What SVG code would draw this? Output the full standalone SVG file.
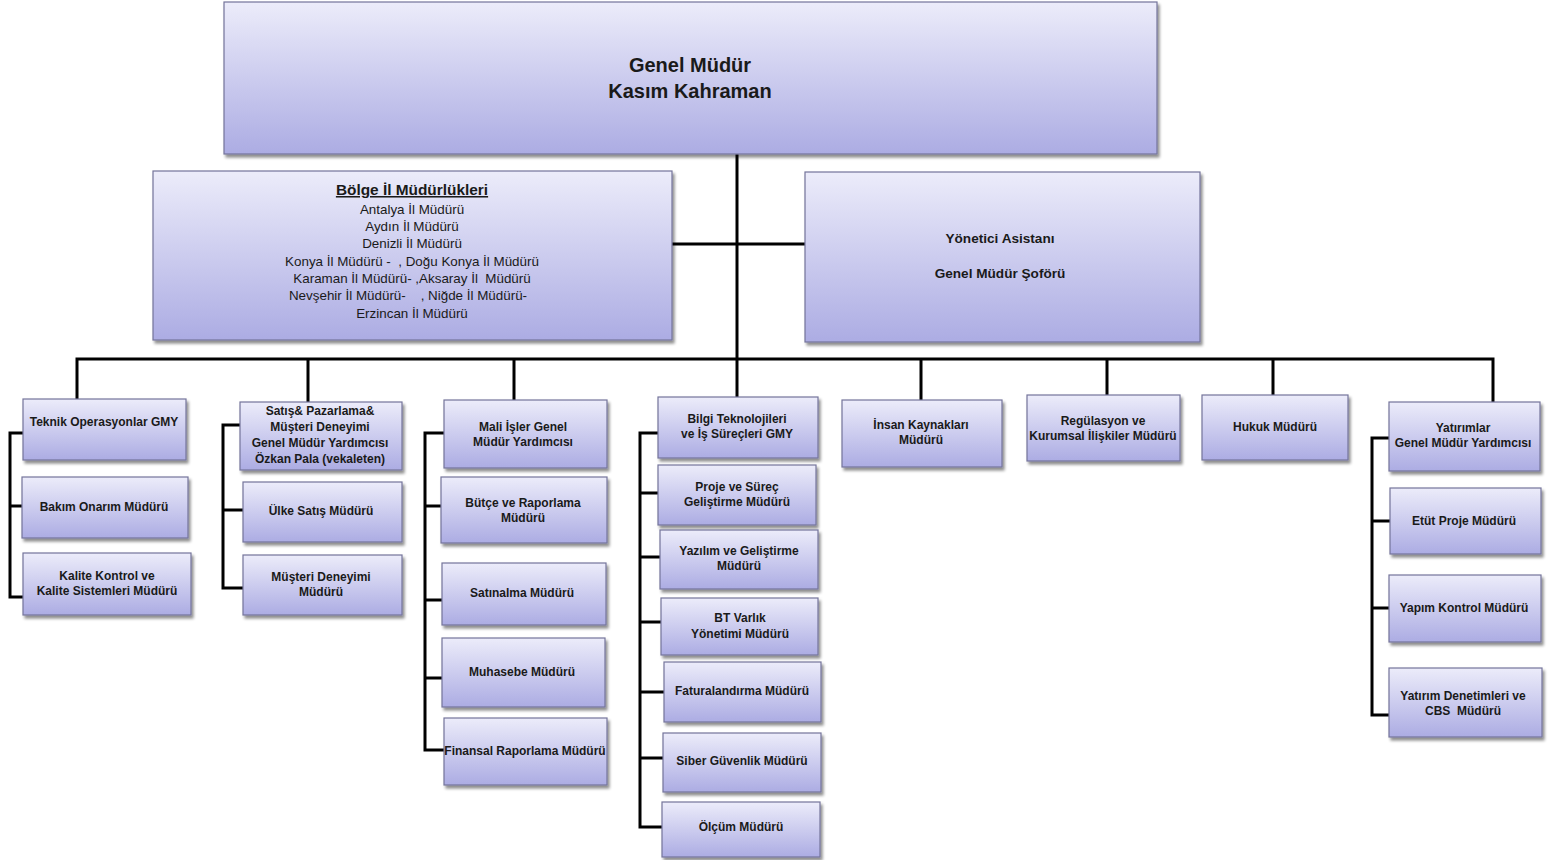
<svg xmlns="http://www.w3.org/2000/svg" width="1558" height="860" viewBox="0 0 1558 860">
<defs>
<linearGradient id="g" x1="0" y1="0" x2="0" y2="1">
<stop offset="0" stop-color="#ececfa"/>
<stop offset="1" stop-color="#acace3"/>
</linearGradient>
<filter id="sh" x="-5%" y="-5%" width="112%" height="120%">
<feGaussianBlur in="SourceAlpha" stdDeviation="1.5"/>
<feOffset dx="1.5" dy="2.5" result="b"/>
<feComponentTransfer><feFuncA type="linear" slope="0.45"/></feComponentTransfer>
<feMerge><feMergeNode/><feMergeNode in="SourceGraphic"/></feMerge>
</filter>
</defs>
<style>
.box{fill:url(#g);stroke:#74749a;stroke-width:1.2;filter:url(#sh)}
text{font-family:"Liberation Sans",Arial,sans-serif;fill:#1a1a1a;text-anchor:middle}
.t{font-size:12px;font-weight:bold}
.big{font-size:20px;font-weight:bold}
.reg{font-size:13.4px}
.ttl{font-size:15.4px;font-weight:bold;text-decoration:underline}
.mid{font-size:13.6px;font-weight:bold}
.c{fill:none;stroke:#000;stroke-width:3}
</style>
<rect width="1558" height="860" fill="#fff"/>
<g id="connectors" class="c">
<path d="M737 154 V397"/>
<path d="M672 244 H805"/>
<path d="M77 399 V359 H1493 V402"/>
<path d="M308 359 V402 M514 359 V400 M921 359 V400 M1107 359 V395 M1273 359 V395"/>
<path d="M23 433 H10 V597 H23 M10 506 H22"/>
<path d="M240 425 H223 V588 H243 M223 510 H243"/>
<path d="M444 433 H425 V750 H444 M425 506 H441 M425 600 H442 M425 678 H442"/>
<path d="M658 433 H640 V827 H662 M640 493 H658 M640 557 H660 M640 622 H661 M640 692 H664 M640 758 H663"/>
<path d="M1389 438 H1372 V715 H1389 M1372 521 H1390 M1372 608 H1389"/>
</g>
<g id="genel-mudur"><rect class="box" x="224" y="2" width="933" height="152"/>
<text class="big" x="690" y="72">Genel Müdür</text><text class="big" x="690" y="98">Kasım Kahraman</text></g>
<g id="bolge"><rect class="box" x="153" y="171" width="519" height="169"/>
<text class="ttl" x="412" y="195">Bölge İl Müdürlükleri </text>
<text class="reg" x="412" y="214">Antalya İl Müdürü</text>
<text class="reg" x="412" y="231">Aydın İl Müdürü</text>
<text class="reg" x="412" y="248">Denizli İl Müdürü</text>
<text class="reg" x="412" y="265.5" xml:space="preserve">Konya İl Müdürü -  , Doğu Konya İl Müdürü</text>
<text class="reg" x="412" y="283" xml:space="preserve">Karaman İl Müdürü- ,Aksaray İl  Müdürü</text>
<text class="reg" x="408" y="300" xml:space="preserve">Nevşehir İl Müdürü-    , Niğde İl Müdürü-</text>
<text class="reg" x="412" y="317.5">Erzincan İl Müdürü</text></g>
<g id="yonetici"><rect class="box" x="805" y="172" width="395" height="170"/>
<text class="mid" x="1000" y="243">Yönetici Asistanı</text><text class="mid" x="1000" y="278">Genel Müdür Şoförü</text></g>

<g id="teknik"><rect class="box" x="23" y="399" width="163" height="61"/><text class="t" x="104" y="426">Teknik Operasyonlar GMY</text></g>
<g id="bakim"><rect class="box" x="22" y="477" width="166" height="61"/><text class="t" x="104" y="511">Bakım Onarım Müdürü</text></g>
<g id="kalite"><rect class="box" x="23" y="553" width="168" height="62"/><text class="t" x="107" y="580">Kalite Kontrol ve</text><text class="t" x="107" y="595">Kalite Sistemleri Müdürü</text></g>

<g id="satis"><rect class="box" x="240" y="402" width="162" height="68"/>
<text class="t" x="320" y="415">Satış&amp; Pazarlama&amp;</text><text class="t" x="320" y="431">Müşteri Deneyimi</text><text class="t" x="320" y="447">Genel Müdür Yardımcısı</text><text class="t" x="320" y="463">Özkan Pala (vekaleten)</text></g>
<g id="ulke"><rect class="box" x="243" y="482" width="159" height="60"/><text class="t" x="321" y="515">Ülke Satış Müdürü</text></g>
<g id="musteri"><rect class="box" x="243" y="555" width="159" height="60"/><text class="t" x="321" y="581">Müşteri Deneyimi</text><text class="t" x="321" y="596">Müdürü</text></g>

<g id="mali"><rect class="box" x="444" y="400" width="163" height="68"/><text class="t" x="523" y="431">Mali İşler Genel</text><text class="t" x="523" y="446">Müdür Yardımcısı</text></g>
<g id="butce"><rect class="box" x="441" y="477" width="166" height="66"/><text class="t" x="523" y="507">Bütçe ve Raporlama</text><text class="t" x="523" y="522">Müdürü</text></g>
<g id="satinalma"><rect class="box" x="442" y="563" width="164" height="62"/><text class="t" x="522" y="597">Satınalma Müdürü</text></g>
<g id="muhasebe"><rect class="box" x="442" y="638" width="163" height="69"/><text class="t" x="522" y="676">Muhasebe Müdürü</text></g>
<g id="finansal"><rect class="box" x="444" y="718" width="163" height="67"/><text class="t" x="525" y="755">Finansal Raporlama Müdürü</text></g>

<g id="bilgi"><rect class="box" x="658" y="397" width="160" height="61"/><text class="t" x="737" y="423">Bilgi Teknolojileri</text><text class="t" x="737" y="438">ve İş Süreçleri GMY</text></g>
<g id="proje"><rect class="box" x="658" y="465" width="158" height="60"/><text class="t" x="737" y="491">Proje ve Süreç</text><text class="t" x="737" y="506">Geliştirme Müdürü</text></g>
<g id="yazilim"><rect class="box" x="660" y="530" width="158" height="59"/><text class="t" x="739" y="555">Yazılım ve Geliştirme</text><text class="t" x="739" y="570">Müdürü</text></g>
<g id="bt"><rect class="box" x="661" y="598" width="157" height="57"/><text class="t" x="740" y="622">BT Varlık</text><text class="t" x="740" y="638"> Yönetimi Müdürü</text></g>
<g id="fatura"><rect class="box" x="664" y="662" width="157" height="60"/><text class="t" x="742" y="695">Faturalandırma Müdürü</text></g>
<g id="siber"><rect class="box" x="663" y="733" width="158" height="59"/><text class="t" x="742" y="765">Siber Güvenlik Müdürü</text></g>
<g id="olcum"><rect class="box" x="662" y="802" width="158" height="55"/><text class="t" x="741" y="831">Ölçüm Müdürü</text></g>

<g id="insan"><rect class="box" x="842" y="400" width="160" height="67"/><text class="t" x="921" y="429">İnsan Kaynakları</text><text class="t" x="921" y="444">Müdürü</text></g>
<g id="regulasyon"><rect class="box" x="1027" y="395" width="153" height="66"/><text class="t" x="1103" y="425">Regülasyon ve</text><text class="t" x="1103" y="440">Kurumsal İlişkiler Müdürü</text></g>
<g id="hukuk"><rect class="box" x="1202" y="395" width="146" height="65"/><text class="t" x="1275" y="431">Hukuk Müdürü</text></g>

<g id="yatirimlar"><rect class="box" x="1389" y="402" width="151" height="69"/><text class="t" x="1463" y="432">Yatırımlar</text><text class="t" x="1463" y="447">Genel Müdür Yardımcısı</text></g>
<g id="etut"><rect class="box" x="1390" y="488" width="151" height="66"/><text class="t" x="1464" y="525">Etüt Proje Müdürü</text></g>
<g id="yapim"><rect class="box" x="1389" y="575" width="152" height="67"/><text class="t" x="1464" y="612">Yapım Kontrol Müdürü</text></g>
<g id="denetim"><rect class="box" x="1389" y="668" width="153" height="69"/><text class="t" x="1463" y="700">Yatırım Denetimleri ve</text><text class="t" x="1463" y="715" xml:space="preserve">CBS  Müdürü</text></g>
</svg>
